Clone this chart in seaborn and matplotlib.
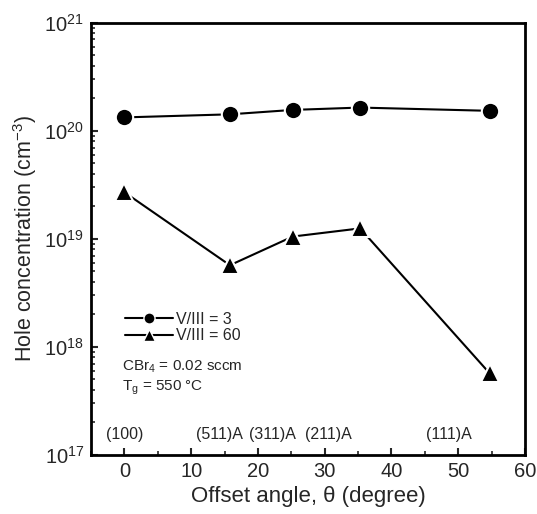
import numpy as np
import pandas as pd
import matplotlib
matplotlib.use("Agg")
import matplotlib.pyplot as plt
import seaborn as sns
from matplotlib.ticker import LogLocator, NullFormatter, MultipleLocator

# offset angles of the substrates (degree)
angle = [0.0, 15.8, 25.2, 35.3, 54.7]
# hole concentration (cm^-3)
hole_v3 = [1.33e20, 1.42e20, 1.56e20, 1.64e20, 1.53e20]
hole_v60 = [2.7e19, 5.7e18, 1.05e19, 1.25e19, 5.7e17]

orient_labels = ["(100)", "(511)A", "(311)A", "(211)A", "(111)A"]
orient_x = [0.0, 14.3, 22.2, 30.6, 48.6]

df = pd.DataFrame({
    "angle": angle * 2,
    "hole": hole_v3 + hole_v60,
    "series": ["V/III = 3"] * 5 + ["V/III = 60"] * 5,
})

sns.set_style("ticks")
plt.rcParams["font.family"] = ["Liberation Sans", "DejaVu Sans"]
plt.rcParams["mathtext.fontset"] = "custom"
plt.rcParams["mathtext.rm"] = "Liberation Sans"
plt.rcParams["mathtext.it"] = "Liberation Sans"

fig = plt.figure(figsize=(5.37, 5.14), dpi=100)
ax = fig.add_axes([0.1695, 0.1148, 0.8082, 0.841])

mk = {"V/III = 3": "o", "V/III = 60": "^"}
for name, sub in df.groupby("series"):
    sns.lineplot(data=sub, x="angle", y="hole", ax=ax, color="black",
                 lw=1.5, marker=mk[name], markersize=12.5 if mk[name] == "o" else 13.5,
                 markeredgecolor="white", markeredgewidth=1.5,
                 markerfacecolor="black", label=name)

ax.set_yscale("log")
ax.set_ylim(1e17, 1e21)
ax.set_xlim(-5, 60)
ax.xaxis.set_major_locator(MultipleLocator(10))
ax.xaxis.set_minor_locator(MultipleLocator(5))
ax.yaxis.set_major_locator(LogLocator(base=10, numticks=10))
ax.yaxis.set_minor_locator(LogLocator(base=10, subs=np.arange(2, 10), numticks=20))
ax.yaxis.set_minor_formatter(NullFormatter())

ax.tick_params(which="major", direction="in", length=5, width=1.5,
               labelsize=14.5, top=False, right=False, pad=5)
ax.tick_params(which="minor", direction="in", length=3, width=1.2,
               top=False, right=False)
for s in ax.spines.values():
    s.set_linewidth(2)
    s.set_color("black")

ax.set_xlabel("Offset angle, θ (degree)", fontsize=16)
ax.set_ylabel("Hole concentration (cm$^{-3}$)", fontsize=15.5)

for lab, xx in zip(orient_labels, orient_x):
    ax.text(xx, 1.55e17, lab, ha="center", va="center", fontsize=11.5)

leg = ax.legend(loc="upper left", bbox_to_anchor=(0.045, 0.365), frameon=False,
                fontsize=11.5, handlelength=3.0, handletextpad=0.2,
                labelspacing=0.1, borderaxespad=0.5)
for h in leg.legend_handles:
    h.set_markersize(8)
    h.set_markeredgewidth(1.0)

ax.text(0.071, 0.205, "CBr$_4$ = 0.02 sccm", transform=ax.transAxes,
        fontsize=11, va="center")
ax.text(0.071, 0.155, "T$_g$ = 550 °C", transform=ax.transAxes,
        fontsize=11, va="center")

fig.savefig("out.png", dpi=100, facecolor="white")
